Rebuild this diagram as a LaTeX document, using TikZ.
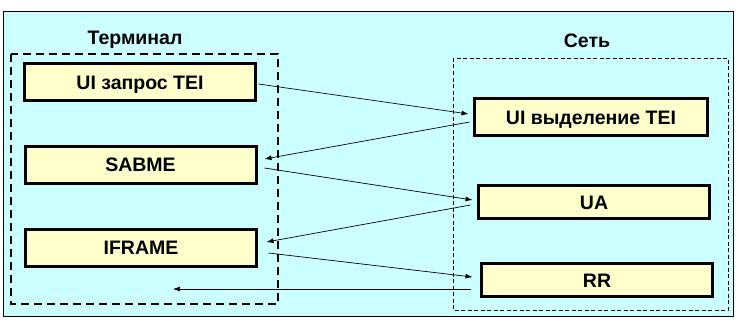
\documentclass[tikz,border=0pt]{standalone}
\usepackage{fontspec}
\setmainfont{Liberation Sans}
\usepackage{xcolor}
\usepackage{tikz}
\usetikzlibrary{arrows.meta,positioning}

\definecolor{bgcyan}{HTML}{CCFFFF}
\definecolor{boxyellow}{HTML}{FFFFCC}

\tikzset{
    frame/.style={draw=black,line width=3pt,fill=boxyellow,minimum height=37pt,
        inner sep=0pt,text height=14pt,text depth=0pt,
        font=\fontsize{19.5}{22}\selectfont\bfseries},
    title/.style={inner sep=0pt,text height=14pt,text depth=0pt,
        font=\fontsize{19.5}{22}\selectfont\bfseries},
    msg/.style={-{Latex[length=7pt,width=5pt]},line width=0.7pt}
}

\begin{document}
\begin{tikzpicture}[x=1pt,y=-1pt]
\useasboundingbox (0,0) rectangle (736,321);
\draw[fill=bgcyan,line width=0.8pt] (3,11) rectangle (733,316);

% side frames
\draw[line width=2.5pt,dash pattern=on 8pt off 5pt] (11,54) rectangle (278,304);
\draw[line width=0.8pt,dash pattern=on 4pt off 2.5pt] (453,58) rectangle (728,310);
\node[title] (term) at (135,38) {Терминал};
\node[title] (net) at (587,41) {Сеть};

% terminal side
\foreach \name/\x/\y/\txt in {ui1/140/82/UI запрос TEI, sab/140.5/164.5/SABME, ifr/141/247.5/IFRAME} {
    \node[frame,minimum width=231pt] (\name) at (\x,\y) {\txt};
}

% network side
\node[frame,minimum width=233pt] (ui2) at (591,117) {UI выделение TEI};
\foreach \name/\x/\y/\txt in {ua/594/202/UA, rr/597/280/RR} {
    \node[frame,minimum width=231pt,minimum height=33pt] (\name) at (\x,\y) {\txt};
}

\coordinate (back) at (173,289);

\foreach \a/\ax/\ay/\b/\bx/\by in {
    ui1.east/1.5/2/ui2.west/-4.5/-3,
    ui2.west/-3.5/5/sab.east/7/-5.5,
    sab.east/7/3.5/ua.west/-4.5/-2,
    ua.west/-6.5/3/ifr.east/8.5/-5.5,
    ifr.east/10.5/5.5/rr.west/-7.5/-3,
    rr.west/-9.5/9/back/0/0
} {
    \draw[msg] ([shift={(\ax,\ay)}]\a) -- ([shift={(\bx,\by)}]\b);
}
\end{tikzpicture}
\end{document}
